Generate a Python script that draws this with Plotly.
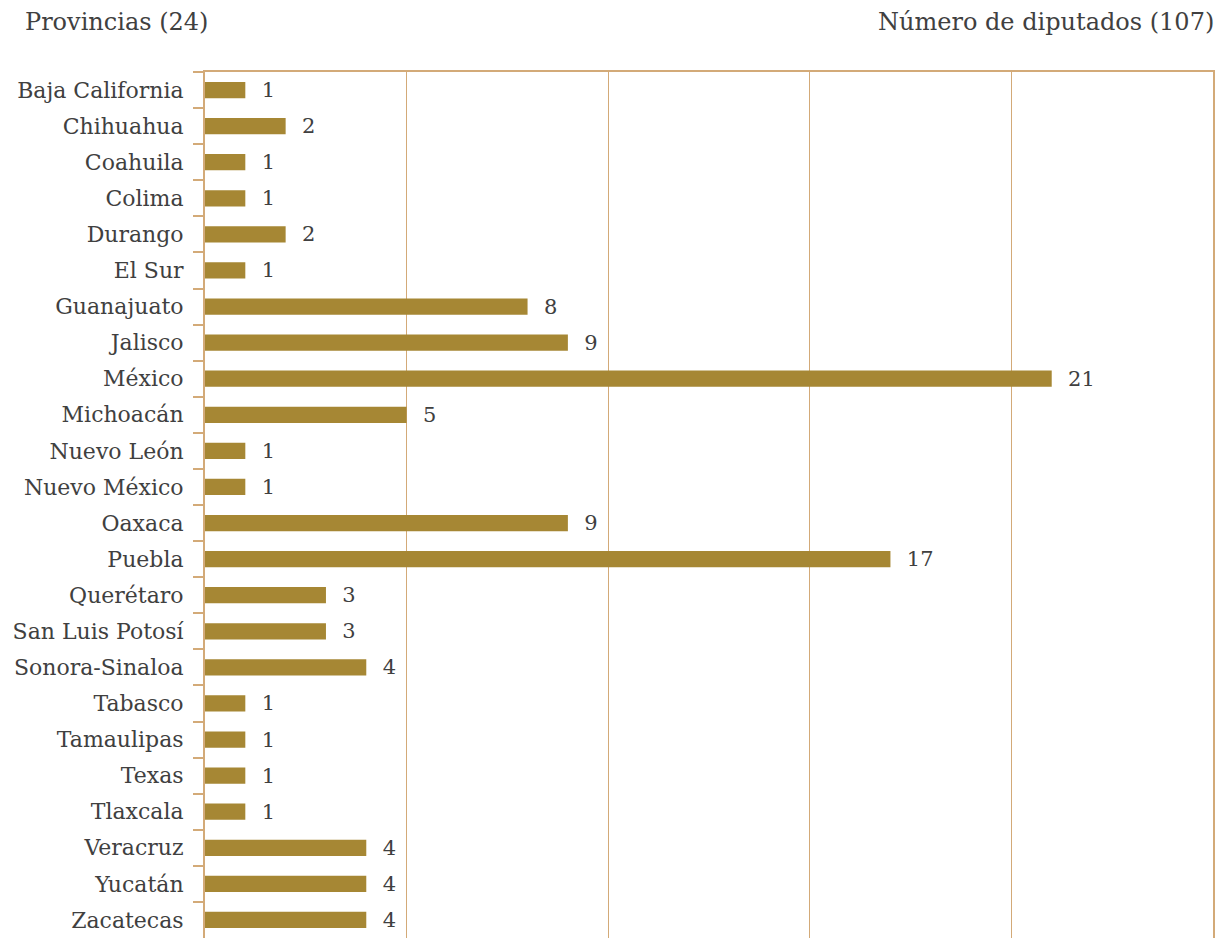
import plotly.graph_objects as go

# Diputados por provincia
provincias = [
    "Baja California", "Chihuahua", "Coahuila", "Colima", "Durango", "El Sur",
    "Guanajuato", "Jalisco", "México", "Michoacán", "Nuevo León", "Nuevo México",
    "Oaxaca", "Puebla", "Querétaro", "San Luis Potosí", "Sonora-Sinaloa",
    "Tabasco", "Tamaulipas", "Texas", "Tlaxcala", "Veracruz", "Yucatán", "Zacatecas",
]
diputados = [1, 2, 1, 1, 2, 1, 8, 9, 21, 5, 1, 1, 9, 17, 3, 3, 4, 1, 1, 1, 1, 4, 4, 4]

titulo_izq = "Provincias (24)"
titulo_der = "Número de diputados (107)"

BAR = "#A68734"
LINE = "#D3AA78"
TEXT = "#404040"
FONT = "DejaVu Serif"

W, H = 1223, 938
ML, MR, MT, MB = 205, 10, 72, 0

fig = go.Figure(
    go.Bar(
        x=diputados,
        y=provincias,
        orientation="h",
        marker=dict(color=BAR, line=dict(width=0)),
        text=["\u00a0\u00a0" + str(v) for v in diputados],
        textposition="outside",
        constraintext="none",
        cliponaxis=False,
        textfont=dict(family=FONT, size=21, color=TEXT),
        width=0.45,
    )
)

fig.update_layout(
    width=W,
    height=H,
    margin=dict(l=ML, r=MR, t=MT, b=MB),
    paper_bgcolor="white",
    plot_bgcolor="white",
    font=dict(family=FONT, color=TEXT, size=22),
    showlegend=False,
    xaxis=dict(
        range=[0, 25],
        side="top",
        dtick=5,
        showgrid=True,
        gridcolor=LINE,
        gridwidth=1,
        showline=True,
        linecolor=LINE,
        linewidth=2,
        showticklabels=False,
        ticks="",
        zeroline=False,
        fixedrange=True,
    ),
    yaxis=dict(
        autorange="reversed",
        showline=True,
        linecolor=LINE,
        linewidth=2,
        mirror=True,
        ticks="outside",
        tickson="boundaries",
        ticklen=10,
        tickcolor=LINE,
        tickwidth=2,
        showgrid=False,
        tickfont=dict(family=FONT, size=22, color=TEXT),
        ticklabelstandoff=15,
        fixedrange=True,
    ),
)

# Títulos colocados en píxeles del lienzo
def px_x(x):
    return (x - ML) / (W - ML - MR)

def px_y(y):
    return 1 + (MT - y) / (H - MT - MB)

fig.add_annotation(text=titulo_izq, x=px_x(23), y=px_y(22), xref="paper", yref="paper",
                   xanchor="left", yanchor="middle", showarrow=False,
                   font=dict(family=FONT, size=24, color=TEXT))
fig.add_annotation(text=titulo_der, x=px_x(1216), y=px_y(22), xref="paper", yref="paper",
                   xanchor="right", yanchor="middle", showarrow=False,
                   font=dict(family=FONT, size=24, color=TEXT))

fig.write_html("out.html")
